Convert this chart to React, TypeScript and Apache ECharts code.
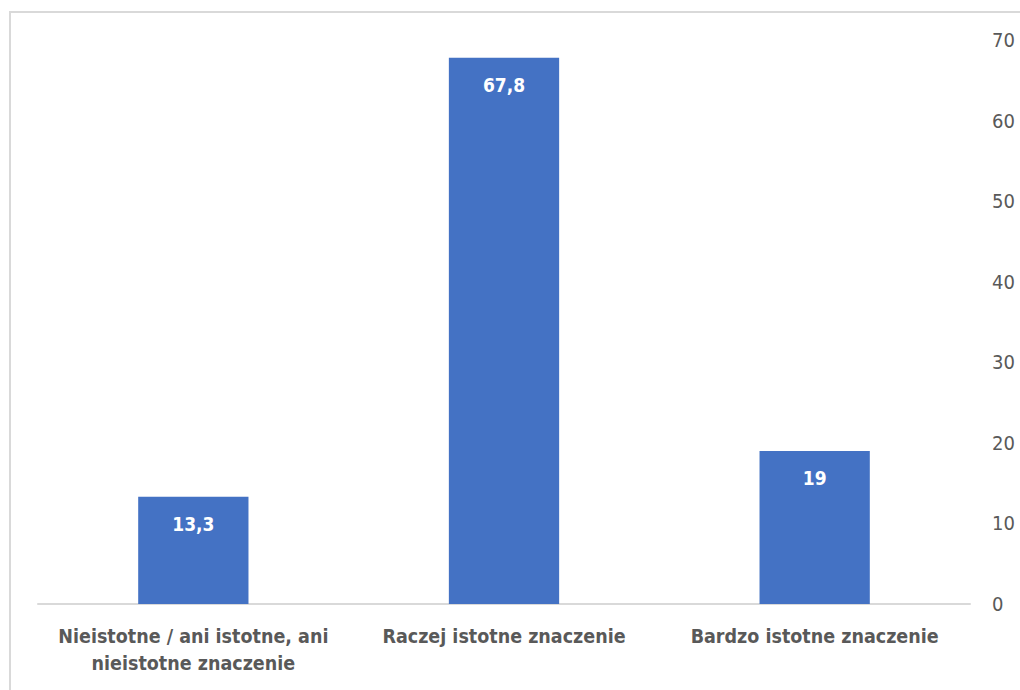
import React, { useEffect, useRef } from "react";
import * as echarts from "echarts";

const categories = [
  "Nieistotne / ani istotne, ani\nnieistotne znaczenie",
  "Raczej istotne znaczenie",
  "Bardzo istotne znaczenie",
];
const values = [13.3, 67.8, 19];
const yTicks = [0, 10, 20, 30, 40, 50, 60, 70];

const FONT = "'DejaVu Sans Condensed', 'Liberation Sans Narrow', sans-serif";

export default function App() {
  const ref = useRef<HTMLDivElement>(null);

  useEffect(() => {
    if (!ref.current) return;
    const chart = echarts.init(ref.current, null, { renderer: "svg" });
    chart.setOption({
      animation: false,
      backgroundColor: "#ffffff",
      textStyle: { fontFamily: FONT },
      graphic: [
        {
          type: "polyline",
          shape: { points: [[10, 690], [10, 12], [1020, 12]] },
          style: { stroke: "#d9d9d9", lineWidth: 2, fill: "none" },
          silent: true,
        },
      ],
      grid: { left: 38, right: 50, top: 40, bottom: 86 },
      xAxis: {
        type: "category",
        data: categories,
        axisLine: { lineStyle: { color: "#d9d9d9", width: 2 } },
        axisTick: { show: false },
        axisLabel: {
          color: "#595959",
          fontSize: 19.5,
          fontWeight: "bold",
          fontFamily: FONT,
          margin: 19,
          lineHeight: 27,
          interval: 0,
        },
      },
      yAxis: {
        type: "value",
        position: "right",
        min: 0,
        max: yTicks[yTicks.length - 1],
        interval: 10,
        axisLine: { show: false },
        axisTick: { show: false },
        splitLine: { show: false },
        axisLabel: {
          color: "#595959",
          fontSize: 20,
          fontFamily: FONT,
          margin: 22,
          align: "left",
        },
      },
      series: [
        {
          type: "bar",
          data: values,
          barWidth: "35.5%",
          itemStyle: { color: "#4472c4" },
          label: {
            show: true,
            position: "insideTop",
            distance: 18,
            color: "#ffffff",
            fontSize: 19,
            fontWeight: "bold",
            fontFamily: FONT,
            formatter: (p: any) => String(p.value).replace(".", ","),
          },
        },
      ],
    });
    return () => chart.dispose();
  }, []);

  return (
    <div
      ref={ref}
      style={{ position: "fixed", left: 0, top: 0, width: 1020, height: 690 }}
    />
  );
}
